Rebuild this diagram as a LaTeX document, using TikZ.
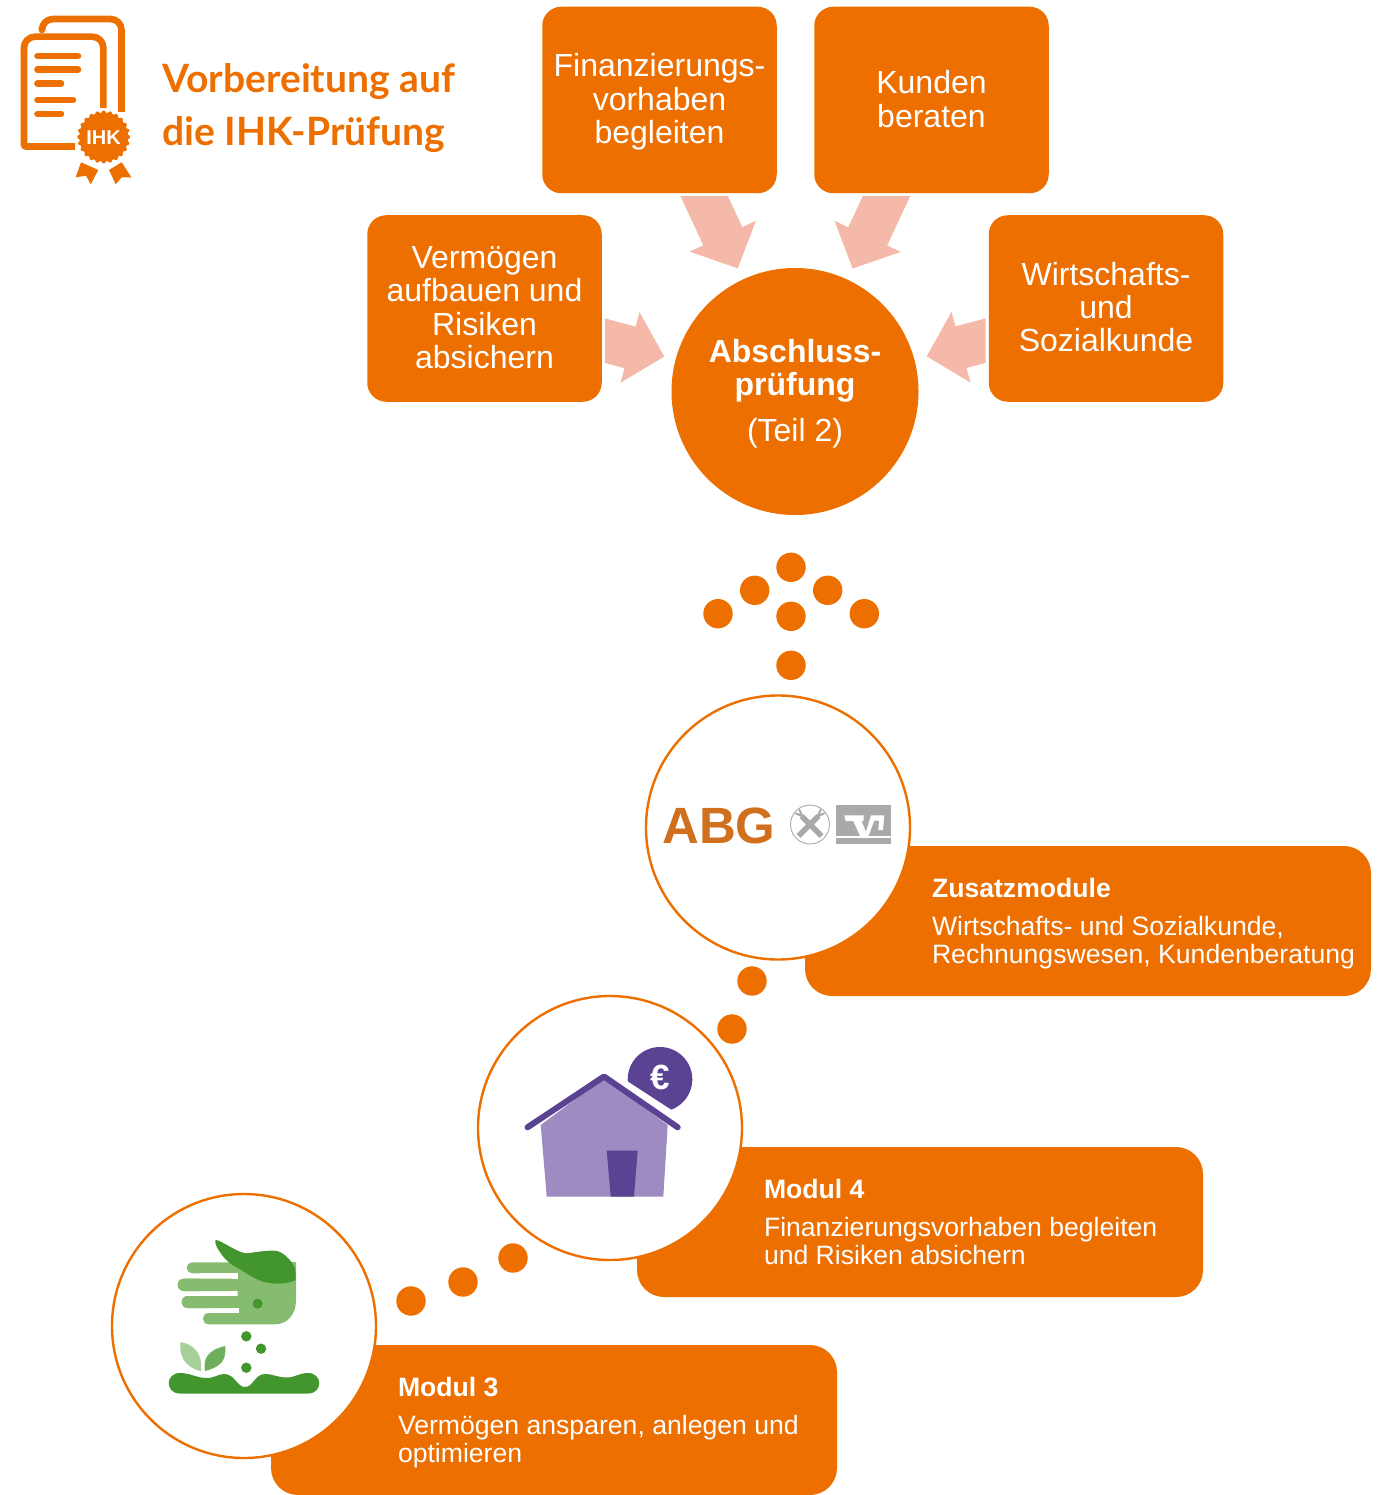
\documentclass[tikz,border=0pt]{standalone}
\usepackage{fontspec}
\setmainfont{Liberation Sans}
\newfontfamily\headfont{Lato}
\usetikzlibrary{arrows.meta,calc,positioning}
\definecolor{ora}{HTML}{EC6F00}
\definecolor{pinkarrow}{HTML}{F4B9A9}
\definecolor{abg}{HTML}{D0701E}
\definecolor{greyl}{HTML}{A9A9A9}
\definecolor{purpd}{HTML}{5B4394}
\definecolor{purpl}{HTML}{9D8BC2}
\definecolor{gd}{HTML}{43962E}
\definecolor{gl}{HTML}{86BC70}
\definecolor{gm}{HTML}{A7CF99}
\definecolor{gn}{HTML}{6FAE5C}
\newcommand{\fs}[2]{\fontsize{#1pt}{#2pt}\selectfont}
\newcommand{\hi}[1]{\rule{0pt}{#1pt}}
\newcommand{\lo}[1]{\rule[-#1pt]{0pt}{#1pt}}
\tikzset{
  x=1pt,y=-1pt,
  topbox/.style={rectangle,rounded corners=19pt,fill=ora,text=white,minimum width=234.5pt,minimum height=186.5pt,align=center,inner sep=0pt,font=\fs{32}{33.2}},
  modbox/.style={rectangle,rounded corners=27pt,fill=ora,minimum width=566pt,minimum height=150pt,inner sep=0pt},
  modtext/.style={anchor=west,align=left,text=white,inner sep=0pt,font=\fs{26.6}{28}},
  ring/.style={circle,draw=ora,line width=2.4pt,fill=white,minimum size=264pt,inner sep=0pt},
  dot/.style={circle,fill=ora,minimum size=29.4pt,inner sep=0pt},
  blockarrow/.style={pinkarrow,line width=43pt,-{Triangle[length=35.6pt,width=71pt,fill=pinkarrow]}},
  logoline/.style={ora,line width=6.6pt,line cap=round,line join=round},
}
\begin{document}
\begin{tikzpicture}
\useasboundingbox (0,0) rectangle (1385,1495);
% top boxes
\node[topbox] (fin) at (659.5,100) {\hi{27}Finanzierungs-\\vorhaben\\begleiten};
\node[topbox] (kun) at (931.5,100) {Kunden\\beraten\lo{2}};
\node[topbox] (verm) at (484.5,308.5) {Vermögen\\aufbauen und\\Risiken\\absichern\lo{2}};
\node[topbox] (wirt) at (1106,308.5) {Wirtschafts-\\und\\Sozialkunde\lo{3}};
\node[circle,fill=ora,text=white,minimum size=247pt,inner sep=0pt,align=center,font=\fs{32}{33.5}] (abs) at (795,391.5)
  {\hi{27.5}\textbf{Abschluss-}\\\textbf{prüfung}\\[12pt](Teil 2)};
% block arrows
\begin{scope}
\clip ($(fin.south west)+(-100,3)$) rectangle ($(fin.south east)+(100,100)$);
\draw[blockarrow,shorten <=-30pt,shorten >=12pt] (fin) -- (abs);
\end{scope}
\begin{scope}
\clip ($(kun.south west)+(-100,3)$) rectangle ($(kun.south east)+(100,100)$);
\draw[blockarrow,shorten <=-30pt,shorten >=12pt] (kun) -- (abs);
\end{scope}
\begin{scope}
\clip ($(verm.north east)+(3,0)$) rectangle ($(verm.south east)+(100,0)$);
\draw[blockarrow,shorten <=-30pt,shorten >=11.5pt] (verm) -- (abs);
\end{scope}
\begin{scope}
\clip ($(wirt.north west)+(-3,0)$) rectangle ($(wirt.south west)+(-100,0)$);
\draw[blockarrow,shorten <=-30pt,shorten >=12.5pt] (wirt) -- (abs);
\end{scope}
% dots
\foreach \n/\p in {d1/{791,567.3},d2/{754.7,590.3},d3/{827.7,590.3},d4/{718,613.7},d5/{864.3,613.7},d6/{791,616.3},d7/{791,665.3},d8/{752,981},d9/{732,1029},d10/{513,1258},d11/{463,1282},d12/{411,1301}}
  \node[dot] (\n) at (\p) {};
% module boxes
\node[modbox] (zus) at (1088,921) {};
\node[modbox] (mvier) at (920,1222) {};
\node[modbox] (mdrei) at (554,1420) {};
\node[modtext] (zust) at ($(zus.west)+(127,3)$) {\textbf{Zusatzmodule}\\[10pt]Wirtschafts- und Sozialkunde,\\Rechnungswesen, Kundenberatung};
\node[modtext] (mviert) at ($(mvier.west)+(127,-0.5)$) {\textbf{Modul 4}\\[10pt]Finanzierungsvorhaben begleiten\\und Risiken absichern};
\node[modtext] (mdreit) at ($(mdrei.west)+(127,3)$) {\textbf{Modul 3}\\[10pt]Vermögen ansparen, anlegen und\\optimieren};
% rings
\node[ring] (r1) at (778,827.5) {};
\node[ring] (r2) at (610,1128) {};
\node[ring] (r3) at (244,1326) {};
% ABG logo
\node[text=abg,font=\fs{51}{51}\bfseries,inner sep=0pt,anchor=base] (abgt) at (719,843.5) {ABG};
\node[circle,draw=greyl,line width=0.9pt,fill=white,minimum size=39pt,inner sep=0pt] (rf) at (810,824.5) {};
\draw[greyl,line width=5.4pt] (798.5,836) -- (818.5,816) (821.5,836) -- (801.5,816);
\draw[greyl,line width=2pt,line cap=round] (818,816) -- (820.5,810) (818,816) -- (824,813.5) (802,816) -- (799.5,810) (802,816) -- (796,813.5);
\fill[greyl] (836,805.3) rectangle (890.7,835.5);
\fill[greyl] (836,838) rectangle (890.7,844.3);
\fill[white] (844.3,815.3) -- (863.5,815.3) -- (863.5,821) -- (861.5,821) -- (866,832) -- (871,815.3) -- (884.3,815.3) -- (883,830) -- (878.3,830) -- (879,820.7) -- (874.3,820.7) -- (867.7,838) -- (861,838) -- (853.3,821) -- (845.7,821) -- cycle;
% House
\fill[purpd] (660,1079.3) circle (32.3);
\fill[white] (620,1076.5) -- (680,1115.5) -- (660,1140) -- (600,1100) -- cycle;
\fill[purpl] (540.7,1125) -- (604,1078) -- (667.7,1125) -- (663.3,1196.5) -- (546.7,1196.5) -- cycle;
\draw[purpd,line width=6pt,line cap=round,line join=round] (527.5,1127.3) -- (604,1076.5) -- (677.7,1127.3);
\fill[purpd] (606.7,1150.7) -- (637.7,1150.7) -- (634,1196.5) -- (610.7,1196.5) -- cycle;
\node[text=white,font=\fs{35}{35}\bfseries,inner sep=0pt] (euro) at (660.3,1077.3) {€};
% Seed hand
\fill[gl,rounded corners=5.5pt] (186.7,1262.3) rectangle (248,1273.3);
\fill[gl,rounded corners=6pt] (177.7,1278.7) rectangle (248,1291);
\fill[gl,rounded corners=6pt] (181.7,1296) rectangle (248,1308);
\fill[gl] (238,1262) -- (296,1262) -- (296,1300) .. controls (296,1315) and (287,1324.3) .. (275,1324.3) -- (209,1324.3) .. controls (201,1324.3) and (201,1313) .. (209,1313) -- (239,1313) -- (239,1308) -- (237.5,1308) -- (237.5,1296) -- (237.5,1262) -- cycle;
\fill[white] (200,1273.3) rectangle (237.5,1278.7);
\fill[white] (200,1291) rectangle (236.5,1296);
\fill[white] (210,1308) rectangle (239,1313);
\fill[gl,rounded corners=6pt] (177.7,1278.7) rectangle (237,1291);
\fill[gl,rounded corners=6pt] (181.7,1296) rectangle (237,1308);
\fill[gd] (216.5,1240) .. controls (222,1241) and (238,1253) .. (246.7,1253.3) .. controls (258,1252) and (268,1250) .. (275,1250.7) .. controls (282,1251) and (290,1259) .. (293.3,1265) .. controls (296,1269) and (295.7,1275) .. (295.7,1280) .. controls (288,1284) and (275,1285) .. (263.3,1281.7) .. controls (252,1278) and (245,1272) .. (238.3,1268.3) .. controls (230,1264) and (224,1259) .. (220,1252) .. controls (215,1246) and (214,1238) .. (216.5,1240) -- cycle;
\fill[gd] (257.7,1303.7) circle (5);
\fill[gd] (246.3,1336.3) circle (5.2) (261,1348.7) circle (5.2) (246.3,1367.7) circle (5.2);
\fill[gm] (180.7,1342) .. controls (192,1344) and (200,1352) .. (201,1362) -- (201,1371) .. controls (190,1369) and (178,1360) .. (180.7,1342) -- cycle;
\fill[gn] (225.3,1346) .. controls (226,1358) and (224,1366) .. (205,1371) .. controls (203,1358) and (208,1350) .. (225.3,1346) -- cycle;
\fill[gd] (180,1373) .. controls (190,1373) and (197,1378) .. (206.7,1378) .. controls (215,1378) and (218,1374) .. (224,1374) .. controls (235,1374) and (237,1387) .. (245,1387) .. controls (253,1387) and (255,1374) .. (265,1374) .. controls (273,1374) and (278,1377.5) .. (286.7,1377.5) .. controls (295,1377.5) and (299,1373) .. (308,1373) .. controls (323,1373) and (323,1393.5) .. (308,1393.5) -- (180,1393.5) .. controls (165,1393.5) and (165,1373) .. (180,1373) -- cycle;
% header logo
\node[anchor=base west,text=ora,inner sep=0pt,font=\headfont\fs{39}{39}\bfseries] (h1) at (162,93) {Vorbereitung auf};
\node[anchor=base west,text=ora,inner sep=0pt,font=\headfont\fs{39}{39}\bfseries] (h2) at (162,146) {die IHK-Prüfung};
\draw[ora,line width=6.6pt,line join=round,rounded corners=11pt] (42,27) -- (42,19) -- (121.5,19) -- (121.5,112);
\draw[ora,line width=6.6pt,rounded corners=2pt] (75,146.5) -- (24,146.5) -- (24,50);
\draw[ora,line width=6.6pt,rounded corners=11pt] (24,52) -- (24,36.7) -- (103.3,36.7) -- (103.3,112);
\draw[logoline] (37.5,56) -- (78,56) (37.5,69.7) -- (78,69.7) (37.5,83.7) -- (61,83.7) (37.5,100) -- (73,100) (37.5,114) -- (61,114);
\fill[white] (103.7,137) circle (29);
\fill[ora] (103.7,137) circle (24.5);
\foreach \a in {0,15,...,345} \fill[ora] (103.7,137) ++(\a:24.2) circle (2.2);
\node[text=white,font=\fs{20}{20}\bfseries,inner sep=0pt] (ihk) at (103.5,137.5) {IHK};
\fill[ora] (81,162.3) -- (98.3,170) -- (90.7,184.3) -- (86,175.7) -- (75.7,177.3) -- cycle;
\fill[ora] (109,170) -- (121.7,162.3) -- (131.3,177.3) -- (121.7,177.3) -- (115.7,184.3) -- cycle;
\end{tikzpicture}
\end{document}
